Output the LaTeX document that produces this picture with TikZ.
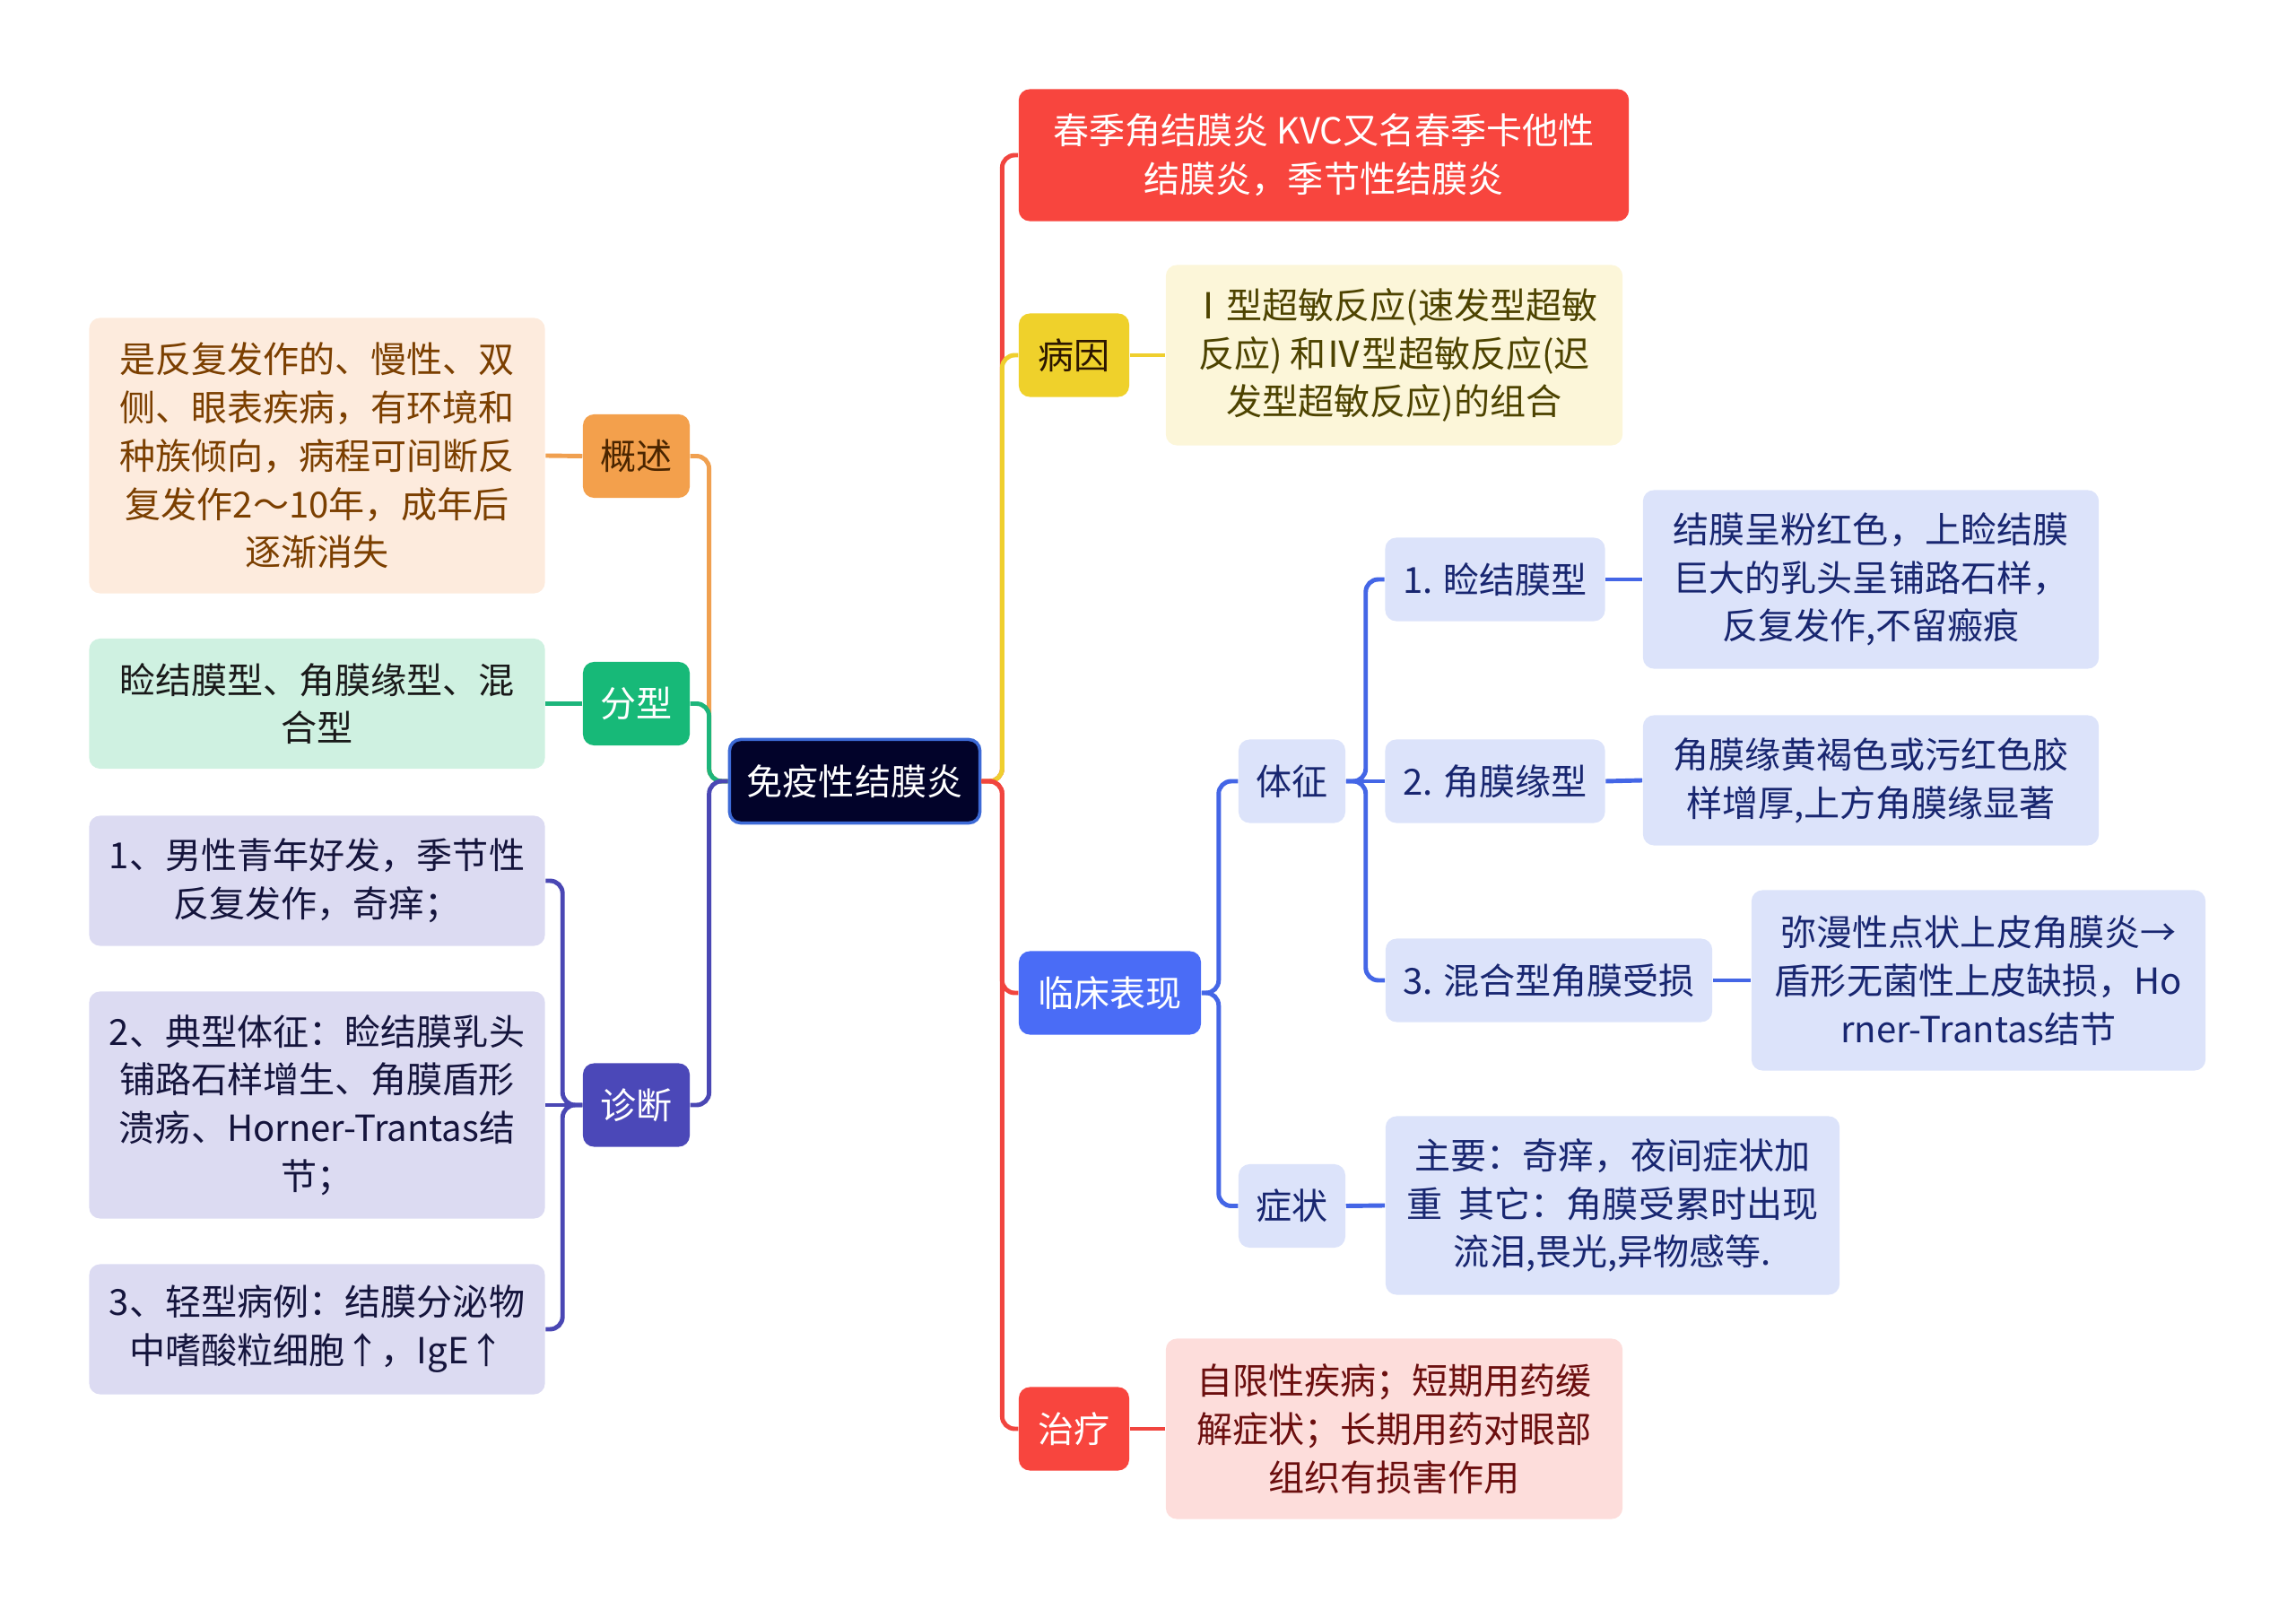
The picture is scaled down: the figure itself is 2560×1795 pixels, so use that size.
\documentclass[tikz,border=0pt]{standalone}
\usepackage{fontspec}
\setmainfont{Noto Sans CJK SC}
\usepackage{xcolor}
\definecolor{rootnavy}{HTML}{02032A}
\definecolor{rootedge}{HTML}{3D6AD6}
\definecolor{tagorange}{HTML}{F3A04C}
\definecolor{leaforange}{HTML}{FDEBDD}
\definecolor{textorange}{HTML}{7B3F00}
\definecolor{tagtextorange}{HTML}{4A2500}
\definecolor{taggreen}{HTML}{17B978}
\definecolor{leafgreen}{HTML}{CFF1E1}
\definecolor{tagindigo}{HTML}{4B48B8}
\definecolor{leafindigo}{HTML}{DCDBF2}
\definecolor{textindigo}{HTML}{14143C}
\definecolor{tagred}{HTML}{F8453E}
\definecolor{leafred}{HTML}{FDDDDB}
\definecolor{textred}{HTML}{6B0E0E}
\definecolor{tagyellow}{HTML}{EFD12B}
\definecolor{leafyellow}{HTML}{FCF6D9}
\definecolor{textyellow}{HTML}{4D4300}
\definecolor{tagblue}{HTML}{4A6CF6}
\definecolor{leafblue}{HTML}{DCE3FA}
\definecolor{textblue}{HTML}{182670}
\definecolor{lineorange}{HTML}{F0A050}
\definecolor{linegreen}{HTML}{1DB57B}
\definecolor{lineindigo}{HTML}{4A47B4}
\definecolor{linered}{HTML}{F1453F}
\definecolor{lineyellow}{HTML}{EFCF2E}
\definecolor{lineblue}{HTML}{4466E6}
\usepackage{tikz}
\usetikzlibrary{positioning}
\tikzset{
  topic/.style      = {rectangle, rounded corners=3.5pt, inner sep=2pt, align=center, minimum height=0.93cm},
  root/.style       = {topic, fill=rootnavy, draw=rootedge, line width=1pt, text=white, minimum width=2.79cm},
  orangetag/.style  = {topic, fill=tagorange, text=tagtextorange, minimum width=1.19cm},
  orangeleaf/.style = {topic, fill=leaforange, text=textorange, minimum width=5.08cm},
  greentag/.style   = {topic, fill=taggreen, text=white, minimum width=1.19cm},
  greenleaf/.style  = {topic, fill=leafgreen, text=black!90, minimum width=5.08cm},
  indigotag/.style  = {topic, fill=tagindigo, text=white, minimum width=1.19cm},
  indigoleaf/.style = {topic, fill=leafindigo, text=textindigo, minimum width=5.08cm},
  redtag/.style     = {topic, fill=tagred, text=white},
  redleaf/.style    = {topic, fill=leafred, text=textred, minimum width=5.09cm},
  yellowtag/.style  = {topic, fill=tagyellow, text=tagtextorange!60!black, minimum width=1.23cm},
  yellowleaf/.style = {topic, fill=leafyellow, text=textyellow, minimum width=5.09cm},
  bluetag/.style    = {topic, fill=tagblue, text=white},
  bluesub/.style    = {topic, fill=leafblue, text=textblue},
  blueleaf/.style   = {topic, fill=leafblue, text=textblue},
  conn/.style       = {line width=1.4pt, rounded corners=4pt},
}

\begin{document}
\begin{tikzpicture}[x=0.01cm, y=-0.01cm, every node/.style={font=\fontsize{11.4}{15.3}\selectfont}]
    \useasboundingbox (0,0) rectangle (2560,1795);

    % central topic
    \node[root] (root) at (953,871) {免疫性结膜炎};

    % left branches
    \node[orangetag] (gaishu) at (709.5,508.5) {概述};
    \node[orangeleaf, minimum height=3.07cm] (gaishuleaf) at (353.5,508)
      {是反复发作的、慢性、双\\侧、眼表疾病，有环境和\\种族倾向，病程可间断反\\复发作2～10年，成年后\\逐渐消失};

    \node[greentag] (fenxing) at (709.5,784.5) {分型};
    \node[greenleaf, minimum height=1.45cm] (fenxingleaf) at (353.5,784.5)
      {睑结膜型、角膜缘型、混\\合型};

    \node[indigotag] (zhenduan) at (709.5,1232) {诊断};
    \node[indigoleaf, minimum height=1.45cm] (zd1) at (353.5,982)
      {1、男性青年好发，季节性\\反复发作，奇痒；};
    \node[indigoleaf, minimum height=2.53cm] (zd2) at (353.5,1232)
      {2、典型体征：睑结膜乳头\\铺路石样增生、角膜盾形\\溃疡、Horner-Trantas结\\节；};
    \node[indigoleaf, minimum height=1.45cm] (zd3) at (353.5,1482)
      {3、轻型病例：结膜分泌物\\中嗜酸粒细胞↑，IgE↑};

    % right branches
    \node[redtag, minimum width=6.80cm, minimum height=1.47cm] (chunji) at (1476,173)
      {春季角结膜炎 KVC又名春季卡他性\\结膜炎，季节性结膜炎};

    \node[yellowtag] (bingyin) at (1197.5,396) {病因};
    \node[yellowleaf, minimum height=2.01cm] (bingyinleaf) at (1554.5,396)
      {Ⅰ型超敏反应(速发型超敏\\反应) 和Ⅳ型超敏反应(迟\\发型超敏反应)的组合};

    \node[bluetag, minimum width=2.03cm] (linchuang) at (1237.5,1107) {临床表现};
    \node[bluesub, minimum width=1.19cm] (tizheng) at (1440.5,871) {体征};
    \node[bluesub, minimum width=1.19cm] (zhengzhuang) at (1440.5,1344.5) {症状};

    \node[bluesub, minimum width=2.45cm] (t1) at (1667,646) {1. 睑结膜型};
    \node[bluesub, minimum width=2.45cm] (t2) at (1667,871) {2. 角膜缘型};
    \node[bluesub, minimum width=3.64cm] (t3) at (1727,1093) {3. 混合型角膜受损};

    \node[blueleaf, minimum width=5.08cm, minimum height=1.99cm] (t1leaf) at (2086,646)
      {结膜呈粉红色，上睑结膜\\巨大的乳头呈铺路石样，\\反复发作,不留瘢痕};
    \node[blueleaf, minimum width=5.08cm, minimum height=1.45cm] (t2leaf) at (2086,870)
      {角膜缘黄褐色或污红色胶\\样增厚,上方角膜缘显著};
    \node[blueleaf, minimum width=5.06cm, minimum height=2.01cm] (t3leaf) at (2206,1093)
      {弥漫性点状上皮角膜炎→\\盾形无菌性上皮缺损，Ho\\rner-Trantas结节};
    \node[blueleaf, minimum width=5.06cm, minimum height=1.99cm] (zzleaf) at (1798,1344)
      {主要：奇痒，夜间症状加\\重\ \ 其它：角膜受累时出现\\流泪,畏光,异物感等.};

    \node[redtag, minimum width=1.23cm] (zhiliao) at (1197.5,1593) {治疗};
    \node[redleaf, minimum height=2.01cm] (zhiliaoleaf) at (1554.5,1593)
      {自限性疾病；短期用药缓\\解症状；长期用药对眼部\\组织有损害作用};

    % bus points beside the parents
    \coordinate (lbus) at ([xshift=-0.21cm]root.west);
    \coordinate (rbus) at ([xshift=0.23cm]root.east);
    \coordinate (zbus) at ([xshift=-0.22cm]zhenduan.west);
    \coordinate (cbus) at ([xshift=0.19cm]linchuang.east);
    \coordinate (tbus) at ([xshift=0.22cm]tizheng.east);

    % edges: root -> left topics
    \draw[conn, lineorange] (gaishu.east) -| (lbus) [sharp corners] -- (root.west);
    \draw[conn, linegreen] (fenxing.east) -| (lbus) [sharp corners] -- (root.west);
    \draw[conn, lineindigo] (zhenduan.east) -| (lbus) [sharp corners] -- (root.west);

    % edges: left topics -> details
    \draw[conn, lineorange] (gaishu.west) -- (gaishuleaf.east);
    \draw[conn, linegreen] (fenxing.west) -- (fenxingleaf.east);
    \draw[conn, lineindigo] (zd1.east) -| (zbus) [sharp corners] -- (zhenduan.west);
    \draw[conn, lineindigo] (zd2.east) -- (zhenduan.west);
    \draw[conn, lineindigo] (zd3.east) -| (zbus) [sharp corners] -- (zhenduan.west);

    % edges: root -> right topics
    \draw[conn, linered] (chunji.west) -| (rbus) [sharp corners] -- (root.east);
    \draw[conn, lineyellow] (bingyin.west) -| (rbus) [sharp corners] -- (root.east);
    \draw[conn, linered] (linchuang.west) -| (rbus) [sharp corners] -- (root.east);
    \draw[conn, linered] (zhiliao.west) -| (rbus) [sharp corners] -- (root.east);

    % edges: right topics -> details
    \draw[conn, lineyellow] (bingyin.east) -- (bingyinleaf.west);
    \draw[conn, linered] (zhiliao.east) -- (zhiliaoleaf.west);
    \draw[conn, lineblue] (tizheng.west) -| (cbus) [sharp corners] -- (linchuang.east);
    \draw[conn, lineblue] (zhengzhuang.west) -| (cbus) [sharp corners] -- (linchuang.east);
    \draw[conn, lineblue] (t1.west) -| (tbus) [sharp corners] -- (tizheng.east);
    \draw[conn, lineblue] (t2.west) -- (tizheng.east);
    \draw[conn, lineblue] (t3.west) -| (tbus) [sharp corners] -- (tizheng.east);
    \draw[conn, lineblue] (t1.east) -- (t1leaf.west);
    \draw[conn, lineblue] (t2.east) -- (t2leaf.west);
    \draw[conn, lineblue] (t3.east) -- (t3leaf.west);
    \draw[conn, lineblue] (zhengzhuang.east) -- (zzleaf.west);
\end{tikzpicture}
\end{document}
